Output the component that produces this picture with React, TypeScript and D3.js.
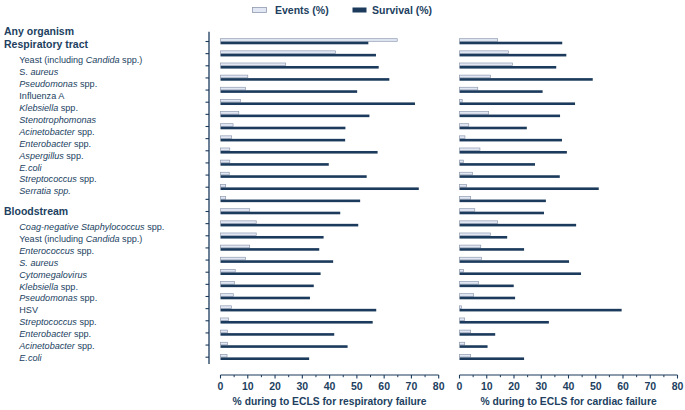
import React from "react";
import * as d3 from "d3";

// Row labels (markup: _text_ = italic). "#" prefix = group header.
const rowLabels: string[] = [
  "#Any organism",
  "#Respiratory tract",
  "Yeast (including _Candida_ spp.)",
  "S. _aureus_",
  "_Pseudomonas_ spp.",
  "Influenza A",
  "_Klebsiella_ spp.",
  "_Stenotrophomonas_",
  "_Acinetobacter_ spp.",
  "_Enterobacter_ spp.",
  "_Aspergillus_ spp.",
  "_E.coli_",
  "_Streptococcus_ spp.",
  "_Serratia spp._",
  "#Bloodstream",
  "_Coag-negative Staphylococcus_ spp.",
  "Yeast (including _Candida_ spp.)",
  "_Enterococcus_ spp.",
  "_S. aureus_",
  "_Cytomegalovirus_",
  "_Klebsiella_ spp.",
  "_Pseudomonas_ spp.",
  "HSV",
  "_Streptococcus_ spp.",
  "_Enterobacter_ spp.",
  "_Acinetobacter_ spp.",
  "_E.coli_",
];

const respEvents = [64.8, 42.2, 23.9, 10.0, 9.2, 7.3, 6.7, 4.6, 4.1, 3.4, 3.4, 3.2, 1.9, 1.9, 10.7, 13.1, 13.1, 10.7, 9.2, 5.4, 5.1, 4.7, 4.0, 3.0, 2.6, 2.6, 2.4];
const respSurvival = [54.2, 57.0, 58.0, 61.9, 50.1, 71.3, 54.6, 45.8, 45.7, 57.6, 39.7, 53.6, 72.7, 51.2, 43.9, 50.5, 37.8, 36.2, 41.3, 36.7, 34.2, 32.8, 57.1, 55.8, 41.7, 46.6, 32.5];
const cardEvents = [14.0, 18.0, 19.4, 11.4, 6.7, 1.0, 10.7, 3.4, 2.0, 7.5, 1.4, 4.8, 2.6, 4.1, 5.6, 14.0, 11.4, 7.8, 8.1, 1.5, 7.0, 5.2, 0.7, 1.9, 4.1, 1.9, 4.1];
const cardSurvival = [37.7, 39.2, 35.5, 48.9, 30.5, 42.4, 36.9, 24.7, 37.6, 39.4, 27.7, 36.8, 51.1, 31.7, 31.0, 42.8, 17.5, 23.7, 40.2, 44.6, 19.9, 20.4, 59.5, 32.8, 13.1, 10.3, 23.7];

const xTicks = [0, 10, 20, 30, 40, 50, 60, 70, 80];
const xMinorTicks = [5, 15, 25, 35, 45, 55, 65, 75];
const panelTitles = ["% during to ECLS for respiratory failure", "% during to ECLS for cardiac failure"];
const legendItems = ["Events (%)", "Survival (%)"];

const NAVY = "#1b3a5c";
const TEXT = "#223f5f";
const EV_FILL = "#e2e7f4";
const EV_STROKE = "#8f9bb0";
const FONT = "'Liberation Sans', Arial, Helvetica, sans-serif";

function parseLabel(s: string) {
  const header = s.startsWith("#");
  const body = header ? s.slice(1) : s;
  const parts = body.split("_").map((t, i) => ({ t, it: i % 2 === 1 })).filter((p) => p.t.length);
  return { header, parts };
}

export default function App() {
  const W = 685, H = 410;
  const rows = rowLabels.map((_, i) => i);
  const y = d3.scalePoint<number>().domain(rows).range([41.5, 357.2]);
  const step = y.step();

  const panels = [
    { x: d3.scaleLinear().domain([0, 80]).range([220.5, 438.7]), ev: respEvents, sv: respSurvival, title: panelTitles[0] },
    { x: d3.scaleLinear().domain([0, 80]).range([459.5, 677.5]), ev: cardEvents, sv: cardSurvival, title: panelTitles[1] },
  ];

  // text flow layout for the label column
  const parsed = rowLabels.map(parseLabel);
  const labelY: number[] = [];
  let cy = 31.7;
  parsed.forEach((p, i) => {
    if (i > 0) {
      const prev = parsed[i - 1];
      if (p.header && prev.header) cy += 12.6;
      else if (p.header) cy += 19.7;
      else if (prev.header) cy += 16;
      else cy += 11.9;
    }
    labelY.push(cy);
  });

  const axisY = 375;
  const axisX = 209;
  const barH = 2.6;

  return (
    <svg width={W} height={H} style={{ position: "absolute", left: 0, top: 0, background: "#fff" }} fontFamily={FONT}>
      {/* legend */}
      <g>
        <rect x={252.5} y={7.5} width={14} height={5} fill={EV_FILL} stroke={EV_STROKE} strokeWidth={0.8} />
        <text x={275} y={13.8} fontSize={10.5} fontWeight="bold" fill={TEXT}>{legendItems[0]}</text>
        <rect x={352.5} y={7.5} width={14} height={5} fill={NAVY} />
        <text x={372} y={13.8} fontSize={10.5} fontWeight="bold" fill={TEXT}>{legendItems[1]}</text>
      </g>

      {/* labels */}
      {parsed.map((p, i) => (
        <text key={i} x={p.header ? 4 : 19.3} y={labelY[i]} dy="0.35em" fill={TEXT}
          fontSize={p.header ? 10.5 : 9.1} fontWeight={p.header ? "bold" : "normal"}>
          {p.parts.map((s, j) => (
            <tspan key={j} fontStyle={s.it ? "italic" : "normal"}>{s.t}</tspan>
          ))}
        </text>
      ))}

      {/* vertical category axis */}
      <line x1={axisX} x2={axisX} y1={y(0)! - step * 0.8} y2={y(rows.length - 1)! + step * 0.55} stroke={NAVY} strokeWidth={1.3} />
      {rows.map((r) => (
        <line key={r} x1={axisX - 3.5} x2={axisX} y1={y(r)} y2={y(r)} stroke={NAVY} strokeWidth={1.1} />
      ))}

      {panels.map((pn, pi) => (
        <g key={pi}>
          {rows.map((r) => (
            <g key={r}>
              <rect x={pn.x(0)} y={y(r)! - barH - 0.2} width={Math.max(0, pn.x(pn.ev[r]) - pn.x(0))} height={barH}
                fill={EV_FILL} stroke={EV_STROKE} strokeWidth={0.7} />
              <rect x={pn.x(0)} y={y(r)! + 0.2} width={pn.x(pn.sv[r]) - pn.x(0)} height={barH} fill={NAVY} />
            </g>
          ))}
          {/* x axis */}
          <line x1={pn.x(0)} x2={pn.x(80)} y1={axisY} y2={axisY} stroke={NAVY} strokeWidth={1.1} />
          {xTicks.map((t) => (
            <g key={t}>
              <line x1={pn.x(t)} x2={pn.x(t)} y1={axisY} y2={axisY + 3.5} stroke={NAVY} strokeWidth={1.1} />
              <text x={pn.x(t)} y={axisY + 14.8} textAnchor="middle" fontSize={10.5} fontWeight="bold" fill={TEXT}>{t}</text>
            </g>
          ))}
          {xMinorTicks.map((t) => (
            <line key={t} x1={pn.x(t)} x2={pn.x(t)} y1={axisY} y2={axisY + 2.2} stroke={NAVY} strokeWidth={1} />
          ))}
          <text x={(pn.x(0) + pn.x(80)) / 2} y={axisY + 30.3} textAnchor="middle" fontSize={10.3} fontWeight="bold" fill={TEXT}>{pn.title}</text>
        </g>
      ))}
    </svg>
  );
}
